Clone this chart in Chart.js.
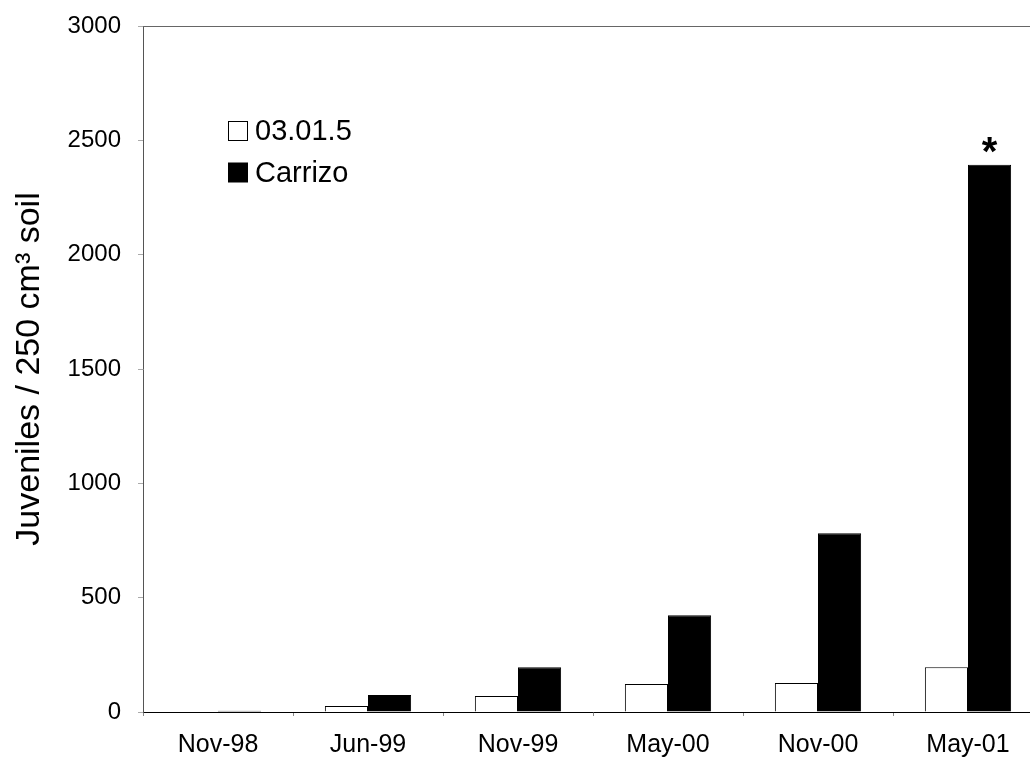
<!DOCTYPE html>
<html>
<head>
<meta charset="utf-8">
<script src="https://cdn.jsdelivr.net/npm/chart.js@4/dist/chart.umd.min.js"></script>
<style>
  html, body { margin: 0; padding: 0; background: #fff; overflow: hidden; }
  #wrap { width: 1030px; height: 759px; overflow: hidden; }
  canvas { display: block; }
</style>
</head>
<body>
<div id="wrap"><canvas id="c" width="1045" height="759"></canvas></div>
<script>
// Sampling dates
const categories = ['Nov-98', 'Jun-99', 'Nov-99', 'May-00', 'Nov-00', 'May-01'];
// Juveniles per 250 cm3 soil
const rootstock0301 = [0, 26, 70, 122, 127, 196];
const carrizo = [5, 74, 196, 423, 782, 2393];
const yTicks = [0, 500, 1000, 1500, 2000, 2500, 3000];
const seriesNames = ['03.01.5', 'Carrizo'];

const FONT = '"Liberation Sans", Arial, sans-serif';

// Top edge of the plot frame
const framePlugin = {
  id: 'frame',
  afterDatasetsDraw(chart) {
    const { ctx, chartArea } = chart;
    ctx.save();
    ctx.strokeStyle = '#666';
    ctx.lineWidth = 1;
    ctx.beginPath();
    ctx.moveTo(chartArea.left, chartArea.top + 0.5);
    ctx.lineTo(chartArea.right, chartArea.top + 0.5);
    ctx.stroke();
    ctx.restore();
  }
};

// Legend inside the plot, upper left
const legendPlugin = {
  id: 'insetLegend',
  afterDraw(chart) {
    const { ctx } = chart;
    ctx.save();
    ctx.font = '29px ' + FONT;
    ctx.textBaseline = 'middle';
    chart.data.datasets.forEach((ds, i) => {
      const y = 131 + i * 41.5;
      ctx.fillStyle = ds.backgroundColor;
      ctx.fillRect(228.5, y - 9.5, 19, 19);
      ctx.strokeStyle = '#000';
      ctx.lineWidth = 1;
      ctx.strokeRect(228.5, y - 9.5, 19, 19);
      ctx.fillStyle = '#000';
      ctx.fillText(ds.label, 255, y + 1);
    });
    ctx.restore();
  }
};

// Significance mark above the last Carrizo bar
const starPlugin = {
  id: 'significance',
  afterDatasetsDraw(chart) {
    const meta = chart.getDatasetMeta(1);
    const bar = meta.data[categories.length - 1];
    const { ctx } = chart;
    ctx.save();
    ctx.font = 'bold 40px ' + FONT;
    ctx.fillStyle = '#000';
    ctx.textAlign = 'center';
    ctx.textBaseline = 'alphabetic';
    ctx.fillText('*', bar.x, bar.y);
    ctx.restore();
  }
};

new Chart(document.getElementById('c'), {
  type: 'bar',
  data: {
    labels: categories,
    datasets: [
      { label: seriesNames[0], data: rootstock0301, backgroundColor: '#ffffff', borderColor: '#000', borderWidth: 1 },
      { label: seriesNames[1], data: carrizo, backgroundColor: '#000000', borderColor: '#000', borderWidth: 1 }
    ]
  },
  options: {
    responsive: false,
    animation: false,
    devicePixelRatio: 1,
    layout: { padding: { top: 26, right: 2, left: 0, bottom: 0 } },
    categoryPercentage: 0.575,
    barPercentage: 1.0,
    plugins: { legend: { display: false }, tooltip: { enabled: false } },
    scales: {
      x: {
        grid: { display: true, drawOnChartArea: false, drawTicks: true, tickLength: 4, color: '#888', offset: true },
        border: { display: true, color: '#000', width: 1 },
        ticks: { color: '#000', font: { family: FONT, size: 25 }, padding: 14, maxRotation: 0 },
        afterFit(scale) { scale.height = 47; scale.paddingLeft = 0; scale.paddingRight = 0; }
      },
      y: {
        min: 0, max: 3000,
        afterBuildTicks(scale) { scale.ticks = yTicks.map(v => ({ value: v })); },
        grid: { display: true, drawOnChartArea: false, drawTicks: true, tickLength: 5, color: '#aaa' },
        border: { display: true, color: '#555', width: 1 },
        ticks: { color: '#000', font: { family: FONT, size: 24 }, padding: 17, callback: v => String(v) },
        title: { display: true, text: 'Juveniles / 250 cm\u00B3 soil', color: '#000', font: { family: FONT, size: 34 }, padding: { top: 9, bottom: 0 } },
        afterFit(scale) { scale.width = 143; scale.paddingTop = 0; scale.paddingBottom = 0; }
      }
    }
  },
  plugins: [framePlugin, legendPlugin, starPlugin]
});
</script>
</body>
</html>
